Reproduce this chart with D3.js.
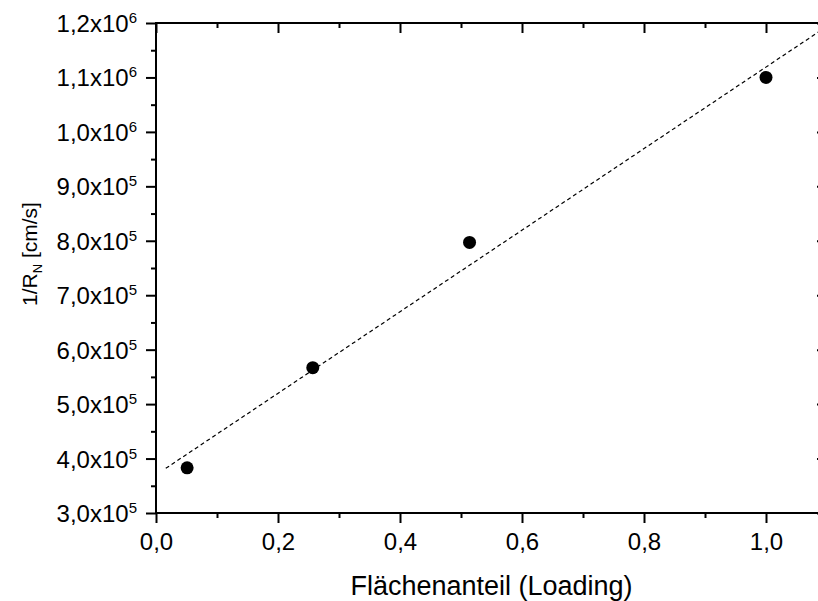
<!DOCTYPE html>
<html>
<head>
<meta charset="utf-8">
<script src="https://cdn.jsdelivr.net/npm/d3@7"></script>
<style>
  body { margin: 0; background: #fff; }
  svg { display: block; font-family: "Liberation Sans", Arial, sans-serif; }
</style>
</head>
<body>
<svg id="chart"></svg>
<script>
// data
const loading = [0.051, 0.257, 0.514, 1.0];
const invRN = [3.83e5, 5.67e5, 7.97e5, 1.10e6];

// linear fit line (two end points)
const fitX = [0.016, 1.1];
const fitY = [3.82e5, 1.194e6];

const xTicks = [0, 0.2, 0.4, 0.6, 0.8, 1.0];
const xTickLabels = ["0,0", "0,2", "0,4", "0,6", "0,8", "1,0"];
const xMinor = [0.1, 0.3, 0.5, 0.7, 0.9, 1.1];

const yTicks = [3e5, 4e5, 5e5, 6e5, 7e5, 8e5, 9e5, 1.0e6, 1.1e6, 1.2e6];
const yTickMantissa = ["3,0", "4,0", "5,0", "6,0", "7,0", "8,0", "9,0", "1,0", "1,1", "1,2"];
const yTickExp = ["5", "5", "5", "5", "5", "5", "5", "6", "6", "6"];
const yMinor = [3.5e5, 4.5e5, 5.5e5, 6.5e5, 7.5e5, 8.5e5, 9.5e5, 1.05e6, 1.15e6];

const xTitle = "Flächenanteil (Loading)";

const width = 818, height = 601;
const plotLeft = 156, plotRight = 827, plotTop = 23, plotBottom = 513;

const svg = d3.select("#chart")
    .attr("width", width)
    .attr("height", height);

svg.append("rect")
    .attr("width", width)
    .attr("height", height)
    .attr("fill", "#fff");

const x = d3.scaleLinear().domain([0, 1.1]).range([plotLeft, plotRight]);
const y = d3.scaleLinear().domain([3e5, 1.2e6]).range([plotBottom, plotTop]);

// clip for the fit line
svg.append("clipPath")
    .attr("id", "plot-clip")
    .append("rect")
    .attr("x", plotLeft)
    .attr("y", plotTop)
    .attr("width", plotRight - plotLeft)
    .attr("height", plotBottom - plotTop);

// fit line
const line = d3.line()
    .x(d => x(d[0]))
    .y(d => y(d[1]));

svg.append("path")
    .datum(fitX.map((v, i) => [v, fitY[i]]))
    .attr("clip-path", "url(#plot-clip)")
    .attr("fill", "none")
    .attr("stroke", "#000")
    .attr("stroke-width", 1.2)
    .attr("stroke-dasharray", "4,3")
    .attr("d", line);

// points
svg.selectAll(".pt")
    .data(loading)
    .enter()
    .append("circle")
    .attr("class", "pt")
    .attr("cx", d => x(d))
    .attr("cy", (d, i) => y(invRN[i]))
    .attr("r", 6.5)
    .attr("fill", "#000");

// axes
function styleAxis(g) {
    g.select(".domain").remove();
    g.selectAll(".tick line").attr("stroke", "#000").attr("stroke-width", 2);
}

// bottom
svg.append("g")
    .attr("transform", `translate(0,${plotBottom})`)
    .call(d3.axisBottom(x).tickValues(xMinor).tickSize(5).tickFormat(""))
    .call(styleAxis);

const xAxis = svg.append("g")
    .attr("transform", `translate(0,${plotBottom})`)
    .call(d3.axisBottom(x).tickValues(xTicks).tickSize(10)
        .tickFormat((d, i) => xTickLabels[i]))
    .call(styleAxis);

xAxis.selectAll(".tick text")
    .attr("y", 37)
    .attr("dy", null)
    .attr("fill", "#000")
    .style("font-size", "24px")
    .style("font-family", "Liberation Sans, Arial, sans-serif");

// top (ticks inward)
svg.append("g")
    .attr("transform", `translate(0,${plotTop})`)
    .call(d3.axisTop(x).tickValues(xMinor).tickSize(-5).tickFormat(""))
    .call(styleAxis);
svg.append("g")
    .attr("transform", `translate(0,${plotTop})`)
    .call(d3.axisTop(x).tickValues(xTicks).tickSize(-10).tickFormat(""))
    .call(styleAxis);

// left
svg.append("g")
    .attr("transform", `translate(${plotLeft},0)`)
    .call(d3.axisLeft(y).tickValues(yMinor).tickSize(5).tickFormat(""))
    .call(styleAxis);

const yAxis = svg.append("g")
    .attr("transform", `translate(${plotLeft},0)`)
    .call(d3.axisLeft(y).tickValues(yTicks).tickSize(10).tickFormat(""))
    .call(styleAxis);

yAxis.selectAll(".tick text").remove();
const yLabel = yAxis.selectAll(".tick")
    .append("text")
    .attr("x", -19)
    .attr("y", 8.5)
    .attr("text-anchor", "end")
    .attr("fill", "#000")
    .style("font-size", "24px")
    .style("font-family", "Liberation Sans, Arial, sans-serif");
yLabel.append("tspan")
    .text(d => yTickMantissa[yTicks.indexOf(d)] + "x10");
yLabel.append("tspan")
    .attr("dy", -9)
    .style("font-size", "15px")
    .text(d => yTickExp[yTicks.indexOf(d)]);

// right (ticks inward)
svg.append("g")
    .attr("transform", `translate(${plotRight},0)`)
    .call(d3.axisRight(y).tickValues(yMinor).tickSize(-5).tickFormat(""))
    .call(styleAxis);
svg.append("g")
    .attr("transform", `translate(${plotRight},0)`)
    .call(d3.axisRight(y).tickValues(yTicks).tickSize(-10).tickFormat(""))
    .call(styleAxis);

// frame
svg.append("rect")
    .attr("x", plotLeft)
    .attr("y", plotTop)
    .attr("width", plotRight - plotLeft)
    .attr("height", plotBottom - plotTop)
    .attr("fill", "none")
    .attr("stroke", "#000")
    .attr("stroke-width", 2);

// axis titles
svg.append("text")
    .attr("x", (plotLeft + plotRight) / 2)
    .attr("y", 595)
    .attr("text-anchor", "middle")
    .style("font-size", "27px")
    .text(xTitle);

const yTitle = svg.append("text")
    .attr("transform", "translate(37,254) rotate(-90)")
    .attr("text-anchor", "middle")
    .style("font-size", "21px");
yTitle.append("tspan").text("1/R");
yTitle.append("tspan").attr("dy", 5).style("font-size", "13px").text("N");
yTitle.append("tspan").attr("dy", -5).text(" [cm/s]");
</script>
</body>
</html>
